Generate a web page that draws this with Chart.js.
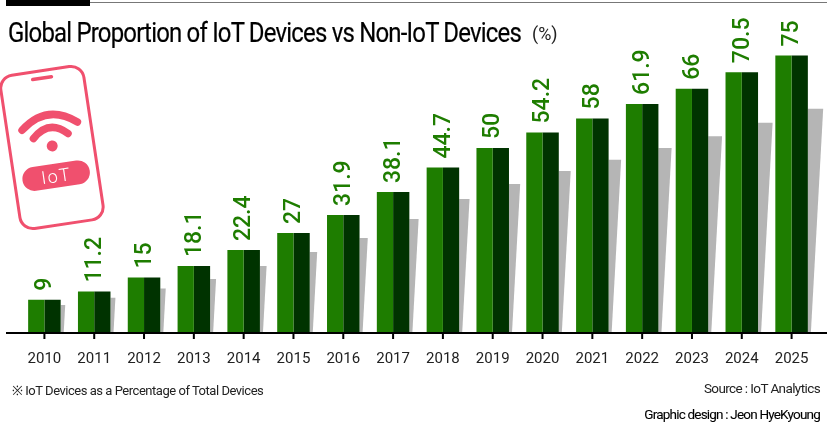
<!DOCTYPE html>
<html>
<head>
<meta charset="utf-8">
<script src="https://cdn.jsdelivr.net/npm/chart.js@4"></script>
<style>
  html, body { margin: 0; padding: 0; background: #fff; }
  #wrap { position: relative; width: 827px; height: 422px; overflow: hidden; font-family: Roboto, sans-serif; }
  #chart { position: absolute; left: 0; top: 0; }
  .txt { position: absolute; white-space: nowrap; color: #222; }
  #ruleThick { position: absolute; left: 6px; top: 0; width: 84px; height: 6px; background: #000; }
  #ruleThin { position: absolute; left: 90px; top: 2px; width: 737px; height: 1px; background: #777; }
  #title { left: 8px; top: 17px; font-size: 27px; color: #000; letter-spacing: -0.9px; -webkit-text-stroke: 0.2px #000; transform: scaleX(0.887); transform-origin: left top; }
  #unit { left: 532px; top: 23px; font-size: 18px; }
  #note { left: 12px; top: 381px; font-size: 13px; letter-spacing: -0.47px; }
  #source { right: 7px; top: 380px; font-size: 13.5px; letter-spacing: -0.6px; }
  #credit { right: 7px; top: 406px; font-size: 13.5px; letter-spacing: -0.8px; color: #000; -webkit-text-stroke: 0.1px #000; }
  #phone { position: absolute; left: 0; top: 62px; }
</style>
</head>
<body>
<div id="wrap">
  <canvas id="chart" width="827" height="422"></canvas>
  <div id="ruleThick"></div>
  <div id="ruleThin"></div>
  <div class="txt" id="title">Global Proportion of IoT Devices vs Non-IoT Devices</div>
  <div class="txt" id="unit">(%)</div>
  <svg id="phone" width="110" height="172" viewBox="0 0 110 172">
    <g transform="rotate(-8.5 52 86)">
      <rect x="10" y="8" width="84" height="155" rx="13" fill="#fff" stroke="#f0506e" stroke-width="3"/>
      <line x1="43" y1="15.5" x2="62" y2="15.5" stroke="#f0506e" stroke-width="3.5" stroke-linecap="round"/>
      <path d="M25 64 Q53 41 81 64" fill="none" stroke="#f0506e" stroke-width="7.5" stroke-linecap="round"/>
      <path d="M35 74 Q53 57 70 74" fill="none" stroke="#f0506e" stroke-width="7.5" stroke-linecap="round"/>
      <circle cx="52.5" cy="84" r="5.5" fill="#f0506e"/>
      <rect x="18" y="102" width="68" height="24" rx="12" fill="#f0506e"/>
      <text x="52" y="120.5" text-anchor="middle" font-family="Roboto" font-weight="300" font-size="18" letter-spacing="1.5" fill="#fff">IoT</text>
    </g>
  </svg>
  <div class="txt" id="note">※ IoT Devices as a Percentage of Total Devices</div>
  <div class="txt" id="source">Source : IoT Analytics</div>
  <div class="txt" id="credit">Graphic design : Jeon HyeKyoung</div>
</div>
<script>
const years = ['2010','2011','2012','2013','2014','2015','2016','2017','2018','2019','2020','2021','2022','2023','2024','2025'];
const iotShare = [9, 11.2, 15, 18.1, 22.4, 27, 31.9, 38.1, 44.7, 50, 54.2, 58, 61.9, 66, 70.5, 75];
// height of the grey cast shadow behind each bar
const shadowHeights = [7.6, 9.5, 12, 14.6, 18.1, 21.9, 25.7, 30.8, 36.2, 40.3, 43.8, 46.8, 50, 53.2, 56.8, 60.6];

const barPlugin = {
  id: 'barExtras',
  beforeDatasetsDraw(chart) {
    // slanted grey shadows
    const { ctx } = chart;
    const y = chart.scales.y;
    const bars = chart.getDatasetMeta(1).data;
    ctx.save();
    ctx.fillStyle = '#b5b5b5';
    bars.forEach((bar, i) => {
      const right = bar.x + bar.width / 2;
      const top = y.getPixelForValue(shadowHeights[i]);
      const slant = 3 + (y.getPixelForValue(0) - top) * 0.055;
      ctx.beginPath();
      ctx.moveTo(right, y.getPixelForValue(0));
      ctx.lineTo(right + 3, y.getPixelForValue(0));
      ctx.lineTo(right + slant, top);
      ctx.lineTo(right, top);
      ctx.closePath();
      ctx.fill();
    });
    ctx.restore();
  },
  afterDatasetsDraw(chart) {
    const { ctx } = chart;
    const y = chart.scales.y;
    const x = chart.scales.x;
    ctx.save();
    // rotated value labels
    ctx.fillStyle = '#1e7d00';
    ctx.font = '500 23px Roboto';
    ctx.textAlign = 'left';
    ctx.textBaseline = 'middle';
    iotShare.forEach((v, i) => {
      ctx.save();
      ctx.translate(x.getPixelForValue(i) + 1, y.getPixelForValue(v) - 9);
      ctx.rotate(-Math.PI / 2);
      ctx.fillText(String(v), 0, 0);
      ctx.restore();
    });
    // baseline runs past the plot on both sides, ticks sit under the bar centres
    const base = y.getPixelForValue(0);
    ctx.strokeStyle = '#000';
    ctx.lineWidth = 2;
    ctx.beginPath();
    ctx.moveTo(6, base);
    ctx.lineTo(827, base);
    years.forEach((label, i) => {
      ctx.moveTo(x.getPixelForValue(i), base);
      ctx.lineTo(x.getPixelForValue(i), base + 6);
    });
    ctx.stroke();
    ctx.restore();
  }
};

new Chart(document.getElementById('chart'), {
  type: 'bar',
  data: {
    labels: years,
    datasets: [
      { label: 'IoT', data: iotShare, backgroundColor: '#1e7d00' },
      { label: 'IoT dark', data: iotShare, backgroundColor: '#003300' }
    ]
  },
  options: {
    responsive: false,
    animation: false,
    layout: { padding: { left: 19.5, right: 10.5, top: 0, bottom: 42 } },
    categoryPercentage: 0.653,
    barPercentage: 1,
    plugins: { legend: { display: false }, tooltip: { enabled: false } },
    scales: {
      y: { display: false, min: 0, max: 90 },
      x: {
        border: { display: false },
        grid: { drawOnChartArea: false, drawTicks: true, tickLength: 5, tickColor: 'transparent' },
        ticks: { color: '#222', font: { family: 'Roboto', size: 15 }, padding: 12, maxRotation: 0, autoSkip: false }
      }
    }
  },
  plugins: [barPlugin]
});
</script>
</body>
</html>
